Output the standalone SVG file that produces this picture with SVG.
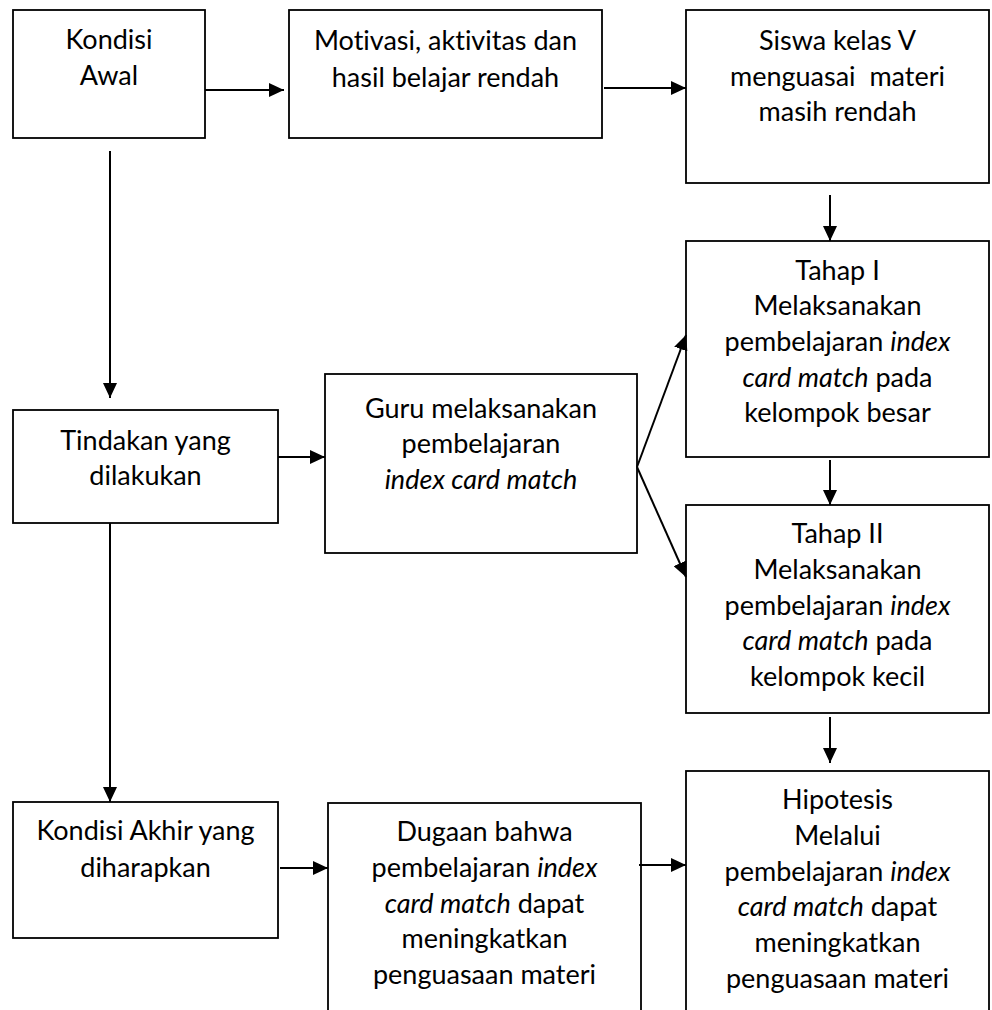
<svg xmlns="http://www.w3.org/2000/svg" width="992" height="1010" viewBox="0 0 992 1010">
<style>
rect{fill:#fff;stroke:#000;stroke-width:1.8}
text{font-family:Lato,"Open Sans","Liberation Sans",sans-serif;font-size:27px;fill:#000;text-anchor:middle;font-variant-ligatures:none;white-space:pre}
.i{font-style:italic}
.c line{stroke:#000;stroke-width:2;marker-end:url(#a)}
</style>
<defs>
<marker id="a" markerUnits="userSpaceOnUse" markerWidth="16" markerHeight="14" refX="15" refY="7" orient="auto">
<path d="M0,0 L15,7 L0,14 z" fill="#000"/>
</marker>
</defs>
<rect x="0" y="0" width="992" height="1010" style="stroke:none"/>
<g id="kondisi-awal"><rect x="13" y="10" width="192" height="128"/>
<text x="109" y="49">Kondisi</text><text x="109" y="85">Awal</text></g>
<g id="motivasi"><rect x="289" y="10" width="313" height="128"/>
<text x="445.5" y="50">Motivasi, aktivitas dan</text><text x="445.5" y="87">hasil belajar rendah</text></g>
<g id="siswa"><rect x="686" y="10" width="303" height="173"/>
<text x="837.5" y="50">Siswa kelas V</text><text x="837.5" y="86" xml:space="preserve">menguasai  materi</text><text x="837.5" y="121">masih rendah</text></g>
<g id="tahap1"><rect x="686" y="241" width="303" height="216"/>
<text x="837.5" y="280">Tahap I</text><text x="837.5" y="315">Melaksanakan</text><text x="837.5" y="351">pembelajaran <tspan class="i">index</tspan></text><text x="837.5" y="387"><tspan class="i">card match</tspan> pada</text><text x="837.5" y="422">kelompok besar</text></g>
<g id="tahap2"><rect x="686" y="505" width="303" height="208"/>
<text x="837.5" y="543">Tahap II</text><text x="837.5" y="579">Melaksanakan</text><text x="837.5" y="615">pembelajaran <tspan class="i">index</tspan></text><text x="837.5" y="650"><tspan class="i">card match</tspan> pada</text><text x="837.5" y="686">kelompok kecil</text></g>
<g id="hipotesis"><rect x="686" y="771" width="303" height="250"/>
<text x="837.5" y="809">Hipotesis</text><text x="837.5" y="845">Melalui</text><text x="837.5" y="881">pembelajaran <tspan class="i">index</tspan></text><text x="837.5" y="916"><tspan class="i">card match</tspan> dapat</text><text x="837.5" y="952">meningkatkan</text><text x="837.5" y="988">penguasaan materi</text></g>
<g id="tindakan"><rect x="13" y="410" width="265" height="113"/>
<text x="145.5" y="450">Tindakan yang</text><text x="145.5" y="485">dilakukan</text></g>
<g id="guru"><rect x="325" y="374" width="312" height="179"/>
<text x="481" y="418">Guru melaksanakan</text><text x="481" y="453">pembelajaran</text><text x="481" y="489" class="i">index card match</text></g>
<g id="kondisi-akhir"><rect x="13" y="802" width="265" height="136"/>
<text x="145.5" y="840">Kondisi Akhir yang</text><text x="145.5" y="877">diharapkan</text></g>
<g id="dugaan"><rect x="328" y="803" width="313" height="220"/>
<text x="484.5" y="841">Dugaan bahwa</text><text x="484.5" y="877">pembelajaran <tspan class="i">index</tspan></text><text x="484.5" y="913"><tspan class="i">card match</tspan> dapat</text><text x="484.5" y="948">meningkatkan</text><text x="484.5" y="984">penguasaan materi</text></g>
<g class="c" id="connectors">
<line x1="205" y1="90" x2="284" y2="90"/>
<line x1="604" y1="88" x2="686" y2="88"/>
<line x1="830" y1="195" x2="830" y2="241"/>
<line x1="830" y1="460" x2="830" y2="505"/>
<line x1="830" y1="717" x2="830" y2="763"/>
<line x1="110" y1="151" x2="110" y2="398"/>
<line x1="110" y1="523" x2="110" y2="802"/>
<line x1="278" y1="457" x2="325" y2="457"/>
<line x1="637" y1="467" x2="686" y2="335"/>
<line x1="637" y1="467" x2="686" y2="577"/>
<line x1="280" y1="868" x2="328" y2="868"/>
<line x1="639" y1="865" x2="686" y2="865"/>
</g>
</svg>
